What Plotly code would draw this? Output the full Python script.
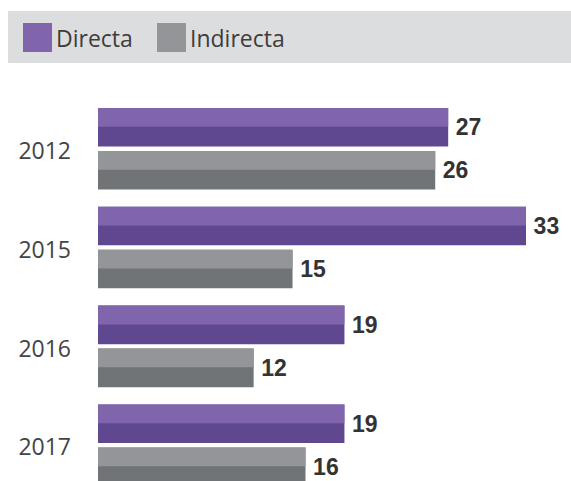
import plotly.graph_objects as go

years = ["2012", "2015", "2016", "2017"]
directa = [27, 33, 19, 19]
indirecta = [26, 15, 12, 16]
series_names = ["Directa", "Indirecta"]

W, H = 571, 481
ML, MT = 98, 100
PW, PH = W - ML, H - MT

def px(x):
    return (x - ML) / PW

def py(y):
    return (H - y) / PH

DARK_P, LIGHT_P = "#604890", "#8064ac"
DARK_G, LIGHT_G = "#707476", "#939598"
FONT = "Open Sans"
BOLD = "Liberation Sans"

fig = go.Figure()
for vals, dark, light, off in [(directa, DARK_P, LIGHT_P, -0.435), (indirecta, DARK_G, LIGHT_G, 0.0)]:
    fig.add_trace(go.Bar(
        y=years, x=vals, orientation="h", width=0.39, offset=off,
        marker=dict(color=dark, line=dict(width=0)),
        text=vals, texttemplate="\u2009%{x}", textposition="outside",
        cliponaxis=False, constraintext="none",
        textfont=dict(family=BOLD, size=23, color="#333333", weight="bold"),
        showlegend=False, hoverinfo="skip"))
    fig.add_trace(go.Bar(
        y=years, x=vals, orientation="h", width=0.19, offset=off,
        marker=dict(color=light, line=dict(width=0)),
        showlegend=False, hoverinfo="skip"))

shapes = [dict(type="rect", xref="paper", yref="paper", x0=px(8), x1=px(571), y0=py(63), y1=py(11),
               fillcolor="#dcdddf", line=dict(width=0), layer="above")]
anns = []
for i, (name, col) in enumerate(zip(series_names, [LIGHT_P, LIGHT_G])):
    sx = [23, 157][i]
    shapes.append(dict(type="rect", xref="paper", yref="paper", x0=px(sx), x1=px(sx + 29),
                       y0=py(52), y1=py(23), fillcolor=col, line=dict(width=0), layer="above"))
    anns.append(dict(text=name, xref="paper", yref="paper", x=px(sx + 31), y=py(38),
                     xanchor="left", yanchor="middle", showarrow=False,
                     font=dict(family=FONT, size=23, color="#3d3d3d")))

fig.update_layout(
    width=W, height=H, margin=dict(l=ML, r=0, t=MT, b=0),
    paper_bgcolor="white", plot_bgcolor="white",
    barmode="overlay", shapes=shapes, annotations=anns,
    xaxis=dict(visible=False, range=[0, PW / 12.97], fixedrange=True),
    yaxis=dict(type="category", categoryorder="array", categoryarray=years,
               range=[3.34, -0.516], showgrid=False, zeroline=False, showline=False,
               ticks="", ticklabelstandoff=26,
               tickfont=dict(family=FONT, size=23, color="#444444")),
)
fig.write_html("out.html", config={"displayModeBar": False},
               post_script="document.body.style.margin='0';document.body.style.overflow='hidden';")
